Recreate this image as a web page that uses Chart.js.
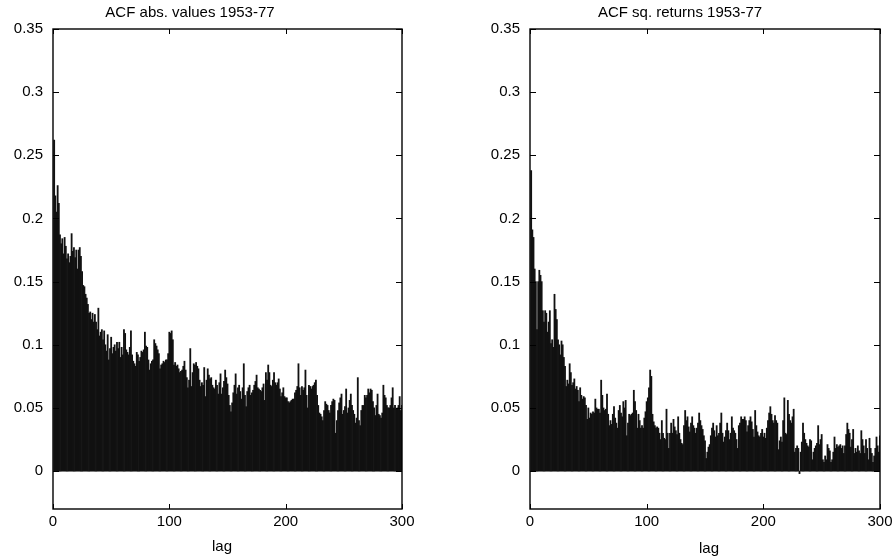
<!DOCTYPE html>
<html>
<head>
<meta charset="utf-8">
<script src="https://cdn.jsdelivr.net/npm/chart.js@4.4.0/dist/chart.umd.min.js"></script>
<style>
  body { margin: 0; background: #fff; }
  #wrap { position: relative; width: 892px; height: 559px; font-family: "Liberation Sans", Arial, sans-serif; color: #000; }
  .box { position: absolute; top: 0; width: 446px; height: 559px; }
  .lbl { position: absolute; font-size: 15px; line-height: 18px; white-space: nowrap; transform: translateX(-50%); }
</style>
</head>
<body>
<div id="wrap">
  <div class="box" style="left:0"><canvas id="acfAbs" width="446" height="559"></canvas></div>
  <div class="box" style="left:446px"><canvas id="acfSq" width="446" height="559"></canvas></div>
  <div class="lbl" style="left:190px;top:3px">ACF abs. values 1953-77</div>
  <div class="lbl" style="left:680px;top:3px">ACF sq. returns 1953-77</div>
  <div class="lbl" style="left:222px;top:537px">lag</div>
  <div class="lbl" style="left:709px;top:539px">lag</div>
</div>
<script>
// lags 1..300
const lags = Array.from({ length: 300 }, (_, i) => i + 1);

// ACF of absolute returns
const absValues = [
  0.262, 0.218, 0.205, 0.226, 0.212, 0.187, 0.180, 0.184, 0.172, 0.185,
  0.178, 0.168, 0.172, 0.165, 0.170, 0.188, 0.174, 0.177, 0.169, 0.175,
  0.160, 0.175, 0.177, 0.170, 0.158, 0.147, 0.146, 0.140, 0.137, 0.132,
  0.125, 0.126, 0.120, 0.125, 0.118, 0.124, 0.118, 0.112, 0.129, 0.107,
  0.110, 0.112, 0.104, 0.111, 0.100, 0.095, 0.108, 0.088, 0.097, 0.106,
  0.093, 0.098, 0.100, 0.095, 0.102, 0.097, 0.102, 0.090, 0.098, 0.092,
  0.112, 0.109, 0.096, 0.094, 0.092, 0.098, 0.111, 0.092, 0.087, 0.085,
  0.083, 0.094, 0.092, 0.087, 0.090, 0.095, 0.094, 0.096, 0.110, 0.099,
  0.098, 0.088, 0.080, 0.085, 0.087, 0.088, 0.104, 0.101, 0.099, 0.096,
  0.093, 0.081, 0.084, 0.085, 0.087, 0.086, 0.088, 0.088, 0.093, 0.110,
  0.109, 0.111, 0.104, 0.084, 0.086, 0.083, 0.084, 0.081, 0.078, 0.079,
  0.080, 0.083, 0.087, 0.080, 0.074, 0.066, 0.072, 0.097, 0.067, 0.078,
  0.085, 0.084, 0.086, 0.083, 0.081, 0.072, 0.067, 0.070, 0.068, 0.082,
  0.059, 0.072, 0.081, 0.076, 0.073, 0.074, 0.068, 0.066, 0.065, 0.072,
  0.068, 0.061, 0.070, 0.077, 0.061, 0.066, 0.071, 0.080, 0.074, 0.069,
  0.060, 0.052, 0.047, 0.054, 0.062, 0.068, 0.077, 0.061, 0.066, 0.068,
  0.063, 0.057, 0.066, 0.085, 0.060, 0.051, 0.063, 0.066, 0.068, 0.060,
  0.062, 0.064, 0.068, 0.071, 0.076, 0.066, 0.065, 0.064, 0.063, 0.066,
  0.069, 0.056, 0.078, 0.072, 0.084, 0.078, 0.068, 0.067, 0.072, 0.078,
  0.070, 0.068, 0.070, 0.073, 0.065, 0.059, 0.062, 0.066, 0.059, 0.058,
  0.058, 0.055, 0.054, 0.055, 0.056, 0.057, 0.057, 0.062, 0.064, 0.067,
  0.085, 0.066, 0.060, 0.067, 0.064, 0.066, 0.080, 0.060, 0.050, 0.068,
  0.067, 0.065, 0.067, 0.068, 0.070, 0.072, 0.060, 0.052, 0.046, 0.045,
  0.043, 0.040, 0.048, 0.055, 0.053, 0.052, 0.048, 0.046, 0.052, 0.055,
  0.057, 0.056, 0.030, 0.040, 0.048, 0.054, 0.058, 0.061, 0.045, 0.048,
  0.051, 0.065, 0.046, 0.050, 0.056, 0.061, 0.052, 0.048, 0.045, 0.038,
  0.042, 0.074, 0.040, 0.036, 0.048, 0.052, 0.052, 0.060, 0.058, 0.060,
  0.065, 0.062, 0.065, 0.064, 0.055, 0.050, 0.044, 0.052, 0.061, 0.045,
  0.044, 0.042, 0.046, 0.068, 0.060, 0.058, 0.052, 0.050, 0.050, 0.052,
  0.058, 0.066, 0.050, 0.052, 0.049, 0.050, 0.052, 0.059, 0.048, 0.052
];

// ACF of squared returns
const sqValues = [
  0.238, 0.191, 0.185, 0.160, 0.150, 0.112, 0.150, 0.159, 0.155, 0.150,
  0.127, 0.118, 0.127, 0.125, 0.110, 0.118, 0.127, 0.101, 0.104, 0.098,
  0.140, 0.128, 0.120, 0.104, 0.100, 0.092, 0.103, 0.100, 0.090, 0.083,
  0.067, 0.072, 0.069, 0.085, 0.078, 0.068, 0.070, 0.073, 0.065, 0.067,
  0.064, 0.055, 0.066, 0.060, 0.057, 0.059, 0.058, 0.052, 0.041, 0.050,
  0.042, 0.046, 0.045, 0.047, 0.046, 0.057, 0.050, 0.049, 0.049, 0.046,
  0.072, 0.060, 0.050, 0.048, 0.049, 0.061, 0.045, 0.036, 0.040, 0.037,
  0.045, 0.051, 0.042, 0.038, 0.034, 0.048, 0.052, 0.046, 0.043, 0.055,
  0.050, 0.056, 0.028, 0.038, 0.045, 0.044, 0.045, 0.046, 0.064, 0.055,
  0.048, 0.034, 0.045, 0.040, 0.034, 0.036, 0.034, 0.042, 0.047, 0.055,
  0.058, 0.066, 0.080, 0.075, 0.045, 0.039, 0.036, 0.034, 0.035, 0.034,
  0.030, 0.025, 0.040, 0.030, 0.026, 0.025, 0.049, 0.030, 0.018, 0.030,
  0.038, 0.030, 0.041, 0.035, 0.032, 0.029, 0.043, 0.030, 0.025, 0.022,
  0.021, 0.036, 0.048, 0.040, 0.043, 0.035, 0.031, 0.038, 0.043, 0.036,
  0.034, 0.030, 0.034, 0.038, 0.046, 0.040, 0.036, 0.033, 0.028, 0.024,
  0.010, 0.015, 0.019, 0.021, 0.028, 0.034, 0.038, 0.032, 0.027, 0.036,
  0.028, 0.030, 0.038, 0.046, 0.030, 0.023, 0.027, 0.032, 0.038, 0.032,
  0.025, 0.030, 0.043, 0.034, 0.032, 0.030, 0.025, 0.018, 0.036, 0.038,
  0.043, 0.041, 0.041, 0.043, 0.040, 0.031, 0.036, 0.040, 0.043, 0.039,
  0.033, 0.027, 0.048, 0.036, 0.031, 0.028, 0.027, 0.030, 0.033, 0.027,
  0.030, 0.026, 0.034, 0.040, 0.046, 0.051, 0.045, 0.040, 0.038, 0.044,
  0.040, 0.038, 0.017, 0.024, 0.027, 0.023, 0.040, 0.058, 0.030, 0.029,
  0.056, 0.045, 0.040, 0.038, 0.043, 0.049, 0.015, 0.018, 0.020, 0.018,
  -0.002, 0.015, 0.023, 0.038, 0.030, 0.025, 0.022, 0.020, 0.019, 0.025,
  0.024, 0.009, 0.015, 0.018, 0.020, 0.022, 0.036, 0.021, 0.025, 0.029,
  0.009, 0.007, 0.012, 0.009, 0.021, 0.018, 0.016, 0.007, 0.009, 0.015,
  0.027, 0.018, 0.021, 0.019, 0.020, 0.021, 0.018, 0.020, 0.014, 0.020,
  0.029, 0.038, 0.033, 0.030, 0.019, 0.025, 0.033, 0.014, 0.018, 0.015,
  0.020, 0.016, 0.014, 0.032, 0.025, 0.020, 0.014, 0.025, 0.018, 0.009,
  0.026, 0.018, 0.014, 0.007, 0.012, 0.018, 0.027, 0.020, 0.015, 0.028
];

const xTicks = [0, 100, 200, 300];
const xTickLabels = ['0', '100', '200', '300'];
const yTicks = [0, 0.05, 0.1, 0.15, 0.2, 0.25, 0.3, 0.35];
const yTickLabels = ['0', '0.05', '0.1', '0.15', '0.2', '0.25', '0.3', '0.35'];

Chart.defaults.font.family = '"Liberation Sans", Arial, sans-serif';
Chart.defaults.font.size = 15;
Chart.defaults.color = '#000';

// gnuplot-like box with inward ticks on every side
const frameTicks = {
  id: 'frameTicks',
  afterDatasetsDraw(chart) {
    const { ctx, chartArea: a } = chart;
    const x = chart.scales.x, y = chart.scales.y;
    ctx.save();
    ctx.strokeStyle = '#000';
    ctx.lineWidth = 1;
    ctx.beginPath();
    xTicks.forEach(v => {
      const px = Math.round(x.getPixelForValue(v)) + 0.5;
      ctx.moveTo(px, a.bottom); ctx.lineTo(px, a.bottom - 5);
      ctx.moveTo(px, a.top); ctx.lineTo(px, a.top + 5);
    });
    yTicks.forEach(v => {
      const py = Math.round(y.getPixelForValue(v)) + 0.5;
      ctx.moveTo(a.left, py); ctx.lineTo(a.left + 6, py);
      ctx.moveTo(a.right, py); ctx.lineTo(a.right - 6, py);
    });
    ctx.stroke();
    ctx.lineWidth = 1.4;
    ctx.strokeRect(a.left, a.top, a.right - a.left, a.bottom - a.top);
    ctx.restore();
  }
};

function makeChart(id, values, yWidth, padRight) {
  return new Chart(document.getElementById(id), {
    type: 'bar',
    data: {
      datasets: [{
        data: lags.map((l, i) => ({ x: l, y: values[i] })),
        backgroundColor: '#111',
        borderWidth: 0,
        barPercentage: 1,
        categoryPercentage: 1
      }]
    },
    options: {
      responsive: false,
      animation: false,
      layout: { padding: { top: 29, right: padRight, bottom: 0, left: 0 } },
      plugins: { legend: { display: false }, tooltip: { enabled: false } },
      scales: {
        x: {
          type: 'linear', min: 0, max: 300, offset: false,
          grid: { display: false, drawTicks: false },
          border: { display: false },
          afterBuildTicks: s => { s.ticks = xTicks.map(v => ({ value: v })); },
          // keep the plot edges fixed, the end labels may hang over
          afterFit: s => { s.height = 50; s.paddingLeft = 0; s.paddingRight = 0; },
          ticks: { padding: 4, maxRotation: 0, autoSkip: false, callback: (v, i) => xTickLabels[i] }
        },
        y: {
          min: -0.03, max: 0.35,
          grid: { display: false, drawTicks: false },
          border: { display: false },
          afterBuildTicks: s => { s.ticks = yTicks.map(v => ({ value: v })); },
          afterFit: s => { s.width = yWidth; s.paddingTop = 0; s.paddingBottom = 0; },
          ticks: { padding: 10, autoSkip: false, callback: (v, i) => yTickLabels[i] }
        }
      }
    },
    plugins: [frameTicks]
  });
}

makeChart('acfAbs', absValues, 53, 44);
makeChart('acfSq', sqValues, 84, 12);
</script>
</body>
</html>
